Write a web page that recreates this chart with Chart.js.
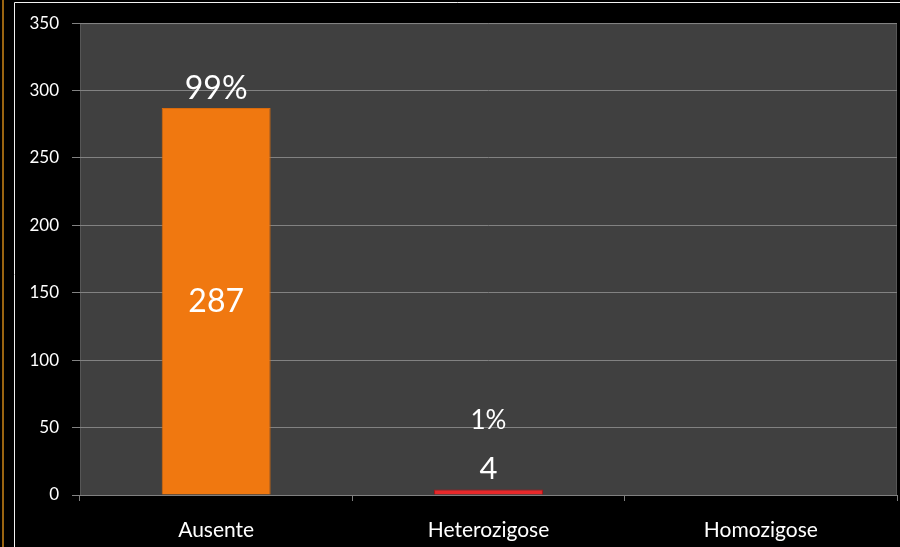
<!DOCTYPE html>
<html>
<head>
<meta charset="utf-8">
<script src="https://cdn.jsdelivr.net/npm/chart.js@4"></script>
<style>
  html, body { margin: 0; padding: 0; background: #000; }
  #wrap { width: 900px; height: 547px; }
</style>
</head>
<body>
<div id="wrap"><canvas id="genotypeChart" width="900" height="547"></canvas></div>
<script>
const categories = ['Ausente', 'Heterozigose', 'Homozigose'];
const counts = [287, 4, 0];
const barColors = ['#f07810', '#e8282a', '#808080'];
const barEdges = ['#d86a0c', '#b01418', '#606060'];
const yTicks = [0, 50, 100, 150, 200, 250, 300, 350];

const total = counts.reduce((a, b) => a + b, 0);
const FONT = 'Lato, "Open Sans", sans-serif';

// dark frame, plot fill and the thin border lines
const framePlugin = {
  id: 'frame',
  beforeDraw(chart) {
    const { ctx, chartArea: a, width, height } = chart;
    ctx.save();
    ctx.fillStyle = '#000';
    ctx.fillRect(0, 0, width, height);
    ctx.fillStyle = '#404040';
    ctx.fillRect(a.left, a.top, a.right - a.left, a.bottom - a.top);
    ctx.strokeStyle = '#565656';
    ctx.lineWidth = 1;
    ctx.strokeRect(a.left + 0.5, a.top + 0.5, a.right - a.left - 1, a.bottom - a.top);
    // outer border lines
    ctx.strokeStyle = '#9a6410';
    ctx.lineWidth = 2;
    ctx.beginPath();
    ctx.moveTo(3, 0); ctx.lineTo(3, height);
    ctx.stroke();
    ctx.strokeStyle = '#f2f2f2';
    ctx.lineWidth = 1;
    ctx.beginPath();
    ctx.moveTo(14.5, height); ctx.lineTo(14.5, 2.5); ctx.lineTo(width, 2.5);
    ctx.stroke();
    ctx.restore();
  }
};

// count and share labels on each bar
const labelPlugin = {
  id: 'barLabels',
  afterDatasetsDraw(chart) {
    const { ctx } = chart;
    const meta = chart.getDatasetMeta(0);
    const yScale = chart.scales.y;
    ctx.save();
    ctx.fillStyle = '#fff';
    ctx.textAlign = 'center';
    ctx.textBaseline = 'middle';
    meta.data.forEach((bar, i) => {
      const v = counts[i];
      if (!v) return;
      const pct = Math.round(v / total * 100) + '%';
      const top = yScale.getPixelForValue(v);
      const base = yScale.getPixelForValue(0);
      if (base - top > 60) {
        ctx.font = '32px ' + FONT;
        ctx.fillText(String(v), bar.x, (top + base) / 2);
        ctx.fillText(pct, bar.x, top - 19);
      } else {
        ctx.font = '31px ' + FONT;
        ctx.fillText(String(v), bar.x, top - 21);
        ctx.font = '26px ' + FONT;
        ctx.fillText(pct, bar.x, top - 69);
      }
    });
    ctx.restore();
  }
};

new Chart(document.getElementById('genotypeChart'), {
  type: 'bar',
  data: {
    labels: categories,
    datasets: [{
      data: counts,
      backgroundColor: barColors,
      borderColor: barEdges,
      borderWidth: 1,
      categoryPercentage: 0.8,
      barPercentage: 0.5
    }]
  },
  options: {
    responsive: false,
    animation: false,
    layout: { padding: { top: 22, right: 3, left: 0, bottom: 0 } },
    plugins: {
      legend: { display: false },
      tooltip: { enabled: false }
    },
    scales: {
      x: {
        afterFit: s => { s.height = 52; },
        grid: {
          offset: true,
          drawOnChartArea: false,
          color: '#808080',
          tickLength: 6
        },
        border: { color: '#808080' },
        ticks: { color: '#fff', font: { family: FONT, size: 21 }, padding: 17 }
      },
      y: {
        min: 0,
        max: 350,
        afterFit: s => { s.width = 80; },
        afterBuildTicks: s => { s.ticks = yTicks.map(v => ({ value: v })); },
        grid: { color: '#828282', tickLength: 8 },
        border: { display: false },
        ticks: { color: '#fff', font: { family: FONT, size: 17 }, padding: 13 }
      }
    }
  },
  plugins: [framePlugin, labelPlugin]
});
</script>
</body>
</html>
